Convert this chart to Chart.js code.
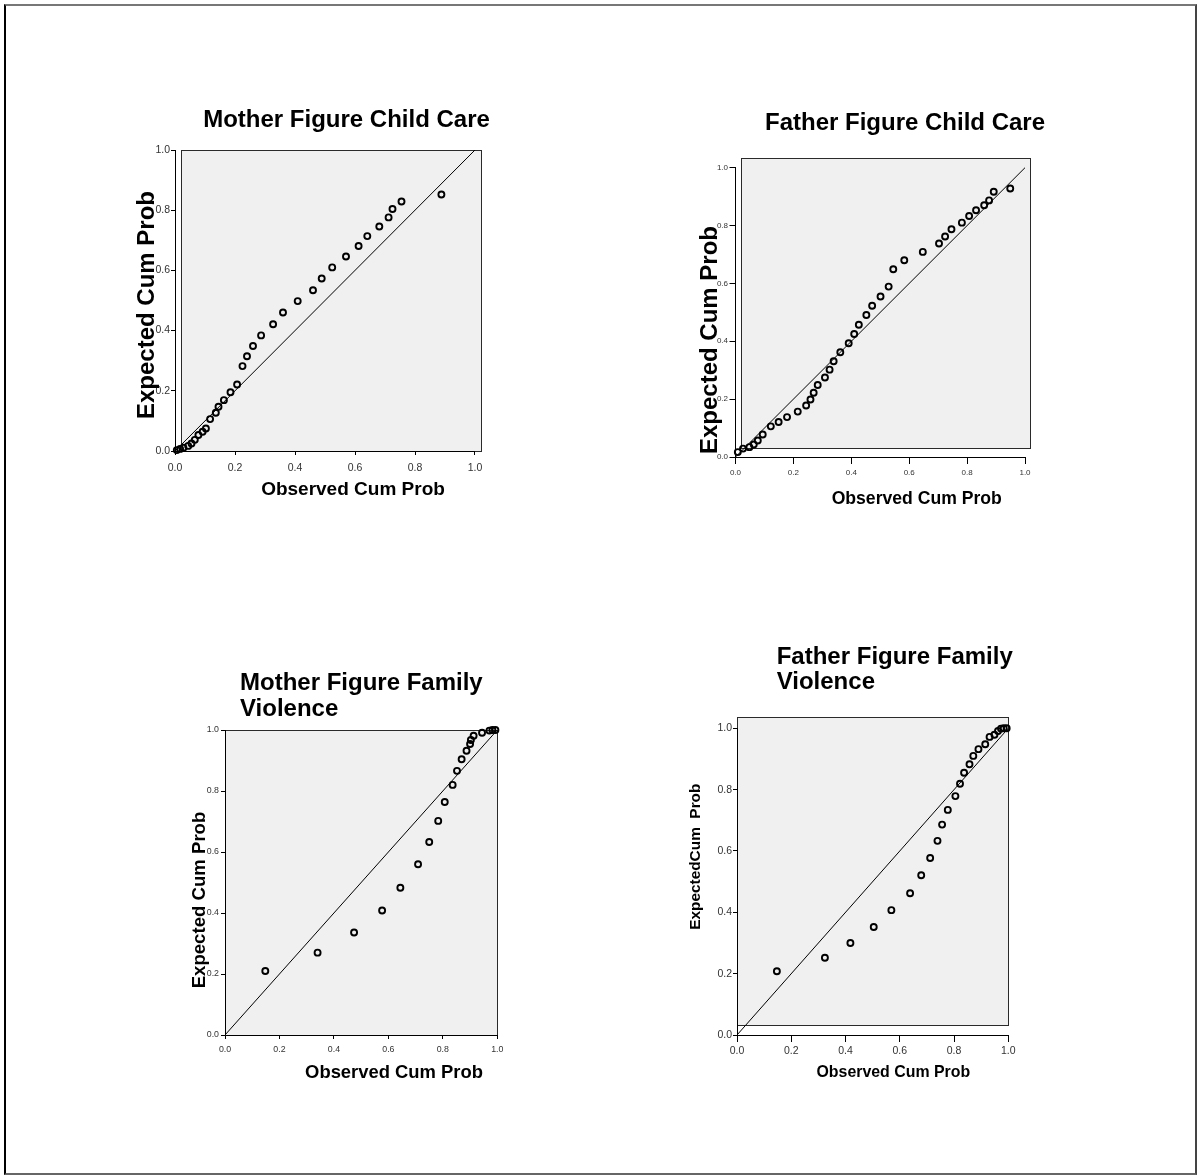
<!DOCTYPE html>
<html><head><meta charset="utf-8">
<script src="https://cdn.jsdelivr.net/npm/chart.js@4.4.1/dist/chart.umd.min.js"></script>
<style>
html,body{margin:0;padding:0;background:#fff;}
#page{position:relative;width:1204px;height:1176px;overflow:hidden;background:#fff;}
#frame{position:absolute;left:4px;top:4px;width:1193px;height:1171px;box-sizing:border-box;border-left:2px solid #000;border-top:2px solid #777;border-bottom:2px solid #666;border-right:2px solid #444;}
canvas{position:absolute;}
</style></head><body>
<div id="page"><div id="frame"></div>
<canvas id="c1"></canvas><canvas id="c2"></canvas><canvas id="c3"></canvas><canvas id="c4"></canvas>
</div>
<script>
// ---------- data ----------
const chartTitles = [
  ['Mother Figure Child Care'],
  ['Father Figure Child Care'],
  ['Mother Figure Family', 'Violence'],
  ['Father Figure Family', 'Violence']
];
const xAxisTitles = ['Observed Cum Prob', 'Observed Cum Prob', 'Observed Cum Prob', 'Observed Cum Prob'];
const yAxisTitles = ['Expected Cum Prob', 'Expected Cum Prob', 'Expected Cum Prob', 'ExpectedCum  Prob'];
const tickValues = [0, 0.2, 0.4, 0.6, 0.8, 1.0];
const tickLabels = ['0.0', '0.2', '0.4', '0.6', '0.8', '1.0'];
const diagonalX = [0, 1];
const diagonalY = [0, 1];

const motherCareObserved = [0.006,0.017,0.028,0.044,0.055,0.066,0.078,0.092,0.103,0.117,0.136,0.145,0.163,0.185,0.207,0.225,0.240,0.260,0.287,0.327,0.360,0.409,0.460,0.489,0.524,0.570,0.612,0.641,0.681,0.712,0.725,0.755,0.888];
const motherCareExpected = [0.003,0.007,0.011,0.017,0.025,0.037,0.053,0.064,0.075,0.106,0.127,0.147,0.169,0.195,0.221,0.282,0.315,0.349,0.384,0.421,0.460,0.498,0.534,0.573,0.610,0.646,0.681,0.714,0.746,0.776,0.804,0.829,0.852];

const fatherCareObserved = [0.008,0.026,0.048,0.063,0.077,0.094,0.122,0.149,0.178,0.215,0.244,0.259,0.270,0.284,0.309,0.325,0.339,0.362,0.391,0.410,0.426,0.452,0.472,0.501,0.529,0.545,0.583,0.647,0.703,0.724,0.746,0.782,0.807,0.831,0.859,0.876,0.892,0.949];
const fatherCareExpected = [0.017,0.029,0.034,0.043,0.057,0.078,0.106,0.121,0.138,0.157,0.178,0.199,0.222,0.249,0.275,0.302,0.331,0.362,0.393,0.425,0.457,0.491,0.523,0.555,0.589,0.649,0.680,0.709,0.738,0.762,0.787,0.810,0.833,0.853,0.870,0.887,0.917,0.928];

const motherViolenceObserved = [0.148,0.340,0.474,0.577,0.644,0.709,0.750,0.783,0.807,0.836,0.852,0.869,0.887,0.900,0.903,0.913,0.944,0.971,0.982,0.993];
const motherViolenceExpected = [0.210,0.270,0.336,0.408,0.483,0.560,0.633,0.702,0.764,0.820,0.866,0.904,0.932,0.954,0.967,0.981,0.991,0.998,1.000,1.000];

const fatherViolenceObserved = [0.147,0.324,0.418,0.504,0.569,0.638,0.679,0.712,0.739,0.756,0.777,0.805,0.822,0.837,0.857,0.871,0.890,0.915,0.931,0.949,0.962,0.973,0.983,0.994];
const fatherViolenceExpected = [0.208,0.252,0.300,0.352,0.407,0.462,0.521,0.577,0.633,0.686,0.734,0.779,0.819,0.855,0.883,0.910,0.932,0.948,0.972,0.979,0.991,0.999,1.000,1.000];

// ---------- layout / style ----------
const FONT = '"Liberation Sans", Arial, Helvetica, sans-serif';
Chart.defaults.font.family = FONT;

const layouts = [
  { id:'c1', canvas:[0,0,602,588], xs:motherCareObserved, ys:motherCareExpected,
    area:{left:175, x1:475, bottom:451, y1:150, right:482, top:150},
    box:[181,150,481,451], tickSize:10.5, xTl:4, xPad:7, yTl:4, yPad:1,
    title:{x:346.5, y:120, size:24, align:'center', gap:26},
    xt:{x:353, y:490, size:19}, yt:{x:147.5, y:305, size:24} },
  { id:'c2', canvas:[602,0,602,588], xs:fatherCareObserved, ys:fatherCareExpected,
    area:{left:735.5, x1:1025, bottom:457, y1:167.7, right:1030, top:157.7},
    box:[741,158,1030,448], tickSize:8, xTl:7, xPad:3.5, yTl:6, yPad:1.5,
    title:{x:905, y:123.3, size:24, align:'center', gap:26},
    xt:{x:916.7, y:498.8, size:17.6}, yt:{x:710, y:340, size:24} },
  { id:'c3', canvas:[0,588,602,588], xs:motherViolenceObserved, ys:motherViolenceExpected,
    area:{left:225, x1:497.3, bottom:1035, y1:730, right:497.3, top:730},
    box:[225,730,497.3,1035], tickSize:8.8, xTl:4, xPad:5.7, yTl:4, yPad:2,
    title:{x:240, y:683.3, size:24, align:'left', gap:26},
    xt:{x:394, y:1073, size:18.4}, yt:{x:200.3, y:900, size:18.6} },
  { id:'c4', canvas:[602,588,602,588], xs:fatherViolenceObserved, ys:fatherViolenceExpected,
    area:{left:737, x1:1008.3, bottom:1035, y1:728.3, right:1008.3, top:717.3},
    box:[737,717.3,1008.3,1025.7], tickSize:10.5, xTl:7, xPad:2.4, yTl:4, yPad:1,
    title:{x:776.7, y:657.5, size:24, align:'left', gap:25, clip:689},
    xt:{x:893.3, y:1072.8, size:15.9}, yt:{x:695.3, y:856.7, size:15.4} }
];

const al = v => Math.round(v - 0.5) + 0.5;

function makeChart(cfg, k) {
  const cv = document.getElementById(cfg.id);
  const [cl, ct, cw, ch] = cfg.canvas;
  cv.style.left = cl + 'px'; cv.style.top = ct + 'px';
  cv.style.width = cw + 'px'; cv.style.height = ch + 'px';
  cv.width = cw; cv.height = ch;
  const a = cfg.area;
  const pxX = a.x1 - a.left, pxY = a.bottom - a.y1;
  const xMax = (a.right - a.left) / pxX;
  const yMax = (a.bottom - a.top) / pxY;
  const Wy = 40, Hx = 30;
  const padding = { left: a.left - cl - Wy, right: cl + cw - a.right, top: a.top - ct, bottom: ct + ch - a.bottom - Hx };

  const boxPlugin = {
    id: 'spssBox' + k,
    beforeDatasetsDraw(chart) {
      const ctx = chart.ctx, b = cfg.box;
      ctx.save();
      ctx.fillStyle = '#f0f0f0';
      ctx.fillRect(b[0] - cl, b[1] - ct, b[2] - b[0], b[3] - b[1]);
      ctx.strokeStyle = '#2a2a2a'; ctx.lineWidth = 1;
      ctx.strokeRect(al(b[0] - cl), al(b[1] - ct), Math.round(b[2] - b[0]), Math.round(b[3] - b[1]));
      const xs = chart.scales.x, ys = chart.scales.y;
      const ax = al(chart.chartArea.left), ay = al(chart.chartArea.bottom);
      ctx.strokeStyle = '#000';
      ctx.beginPath();
      ctx.moveTo(ax, al(ys.getPixelForValue(1)) - 0.5);
      ctx.lineTo(ax, ay);
      ctx.lineTo(al(xs.getPixelForValue(1)) + 0.5, ay);
      ctx.stroke();
      ctx.restore();
    }
  };
  const textPlugin = {
    id: 'spssText' + k,
    afterDraw(chart) {
      const ctx = chart.ctx, t = cfg.title;
      ctx.save();
      ctx.fillStyle = '#000';
      ctx.textBaseline = 'middle';
      ctx.save();
      if (t.clip) { ctx.beginPath(); ctx.rect(0, 0, chart.width, t.clip - ct); ctx.clip(); }
      ctx.font = 'bold ' + t.size + 'px ' + FONT;
      ctx.textAlign = t.align;
      chartTitles[k].forEach((line, i) => ctx.fillText(line, t.x - cl, t.y - ct + i * t.gap));
      ctx.restore();
      ctx.font = 'bold ' + cfg.xt.size + 'px ' + FONT;
      ctx.textAlign = 'center';
      ctx.fillText(xAxisTitles[k], cfg.xt.x - cl, cfg.xt.y - ct);
      ctx.font = 'bold ' + cfg.yt.size + 'px ' + FONT;
      ctx.translate(cfg.yt.x - cl, cfg.yt.y - ct);
      ctx.rotate(-Math.PI / 2);
      ctx.fillText(yAxisTitles[k], 0, 0);
      ctx.restore();
    }
  };

  const tickFont = { family: FONT, size: cfg.tickSize };
  return new Chart(cv, {
    type: 'scatter',
    data: {
      datasets: [
        { label: 'observed', data: cfg.xs.map((x, i) => ({ x: x, y: cfg.ys[i] })),
          pointRadius: 3, pointBorderWidth: 1.9, pointBorderColor: '#000',
          pointBackgroundColor: 'rgba(0,0,0,0)', showLine: false, clip: false, order: 1 },
        { label: 'diagonal', data: diagonalX.map((x, i) => ({ x: x, y: diagonalY[i] })),
          showLine: true, borderColor: '#000', borderWidth: 1, pointRadius: 0, fill: false, order: 2 }
      ]
    },
    options: {
      responsive: false, animation: false, devicePixelRatio: 1, events: [],
      layout: { padding: padding },
      plugins: { legend: { display: false }, tooltip: { enabled: false }, title: { display: false } },
      scales: {
        x: { type: 'linear', position: 'bottom', min: 0, max: xMax, bounds: 'data',
          afterBuildTicks: s => { s.ticks = tickValues.map(v => ({ value: v })); },
          afterFit: s => { s.height = Hx; },
          ticks: { callback: (v, i) => tickLabels[i], font: tickFont, color: '#333', padding: cfg.xPad, maxRotation: 0, autoSkip: false },
          grid: { drawOnChartArea: false, drawTicks: true, tickLength: cfg.xTl, color: '#000', tickColor: '#000' },
          border: { display: false } },
        y: { type: 'linear', position: 'left', min: 0, max: yMax, bounds: 'data',
          afterBuildTicks: s => { s.ticks = tickValues.map(v => ({ value: v })); },
          afterFit: s => { s.width = Wy; },
          ticks: { callback: (v, i) => tickLabels[i], font: tickFont, color: '#333', padding: cfg.yPad, autoSkip: false },
          grid: { drawOnChartArea: false, drawTicks: true, tickLength: cfg.yTl, color: '#000', tickColor: '#000' },
          border: { display: false } }
      }
    },
    plugins: [boxPlugin, textPlugin]
  });
}
layouts.forEach((cfg, k) => makeChart(cfg, k));
</script>
</body></html>
